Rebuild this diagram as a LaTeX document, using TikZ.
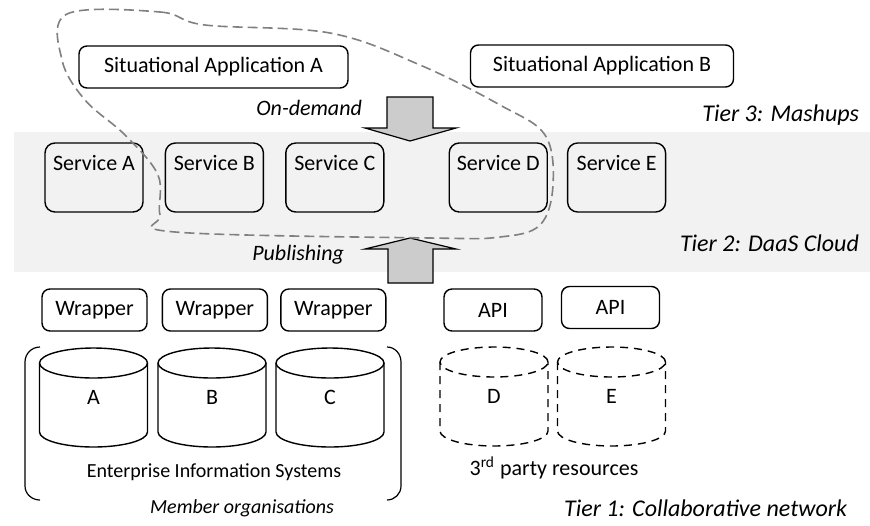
\documentclass[tikz,border=0pt]{standalone}
\usepackage{fontspec}
\setmainfont{Carlito}
\usetikzlibrary{positioning}

\begin{document}
\begin{tikzpicture}[x=0.5pt,y=-0.5pt,
    every node/.style={font=\fontsize{11}{13}\selectfont}, %letra de todos los nodos
    box/.style={draw,rounded corners=4pt,line width=0.7pt,minimum height=21pt,inner sep=0pt},
    svc/.style={draw,rounded corners=5pt,line width=0.7pt,minimum width=49pt,inner xsep=0pt,inner ysep=2pt,text height=11.5pt,text depth=19pt}, %texto arriba de la caja
    db/.style={minimum width=54pt,minimum height=34.5pt,inner sep=0pt,outer sep=0pt}, %cuerpo del cilindro, se dibuja despues
    tramado/.style={dash pattern=on 4pt off 3pt},
    tier/.style={font=\fontsize{12}{14}\selectfont\itshape,anchor=east},
    flecha/.style={draw,line width=0.6pt,fill=black!20,line join=miter}]

    \useasboundingbox (0,0) rectangle (870,525);
    \fill[black!5] (14,132) rectangle (870,272); %la nube (franja gris)

    %Tier 3
    \node[box,minimum width=134.5pt] (sitA) at (213.5,67) {Situational Application A};
    \node[box,minimum width=131.5pt] (sitB) at (602,66) {Situational Application B};

    %Tier 2: servicios, referencias relativas
    \node[svc] (svcA) at (94,177.5) {Service A};
    \node[svc,right=10.5pt of svcA] (svcB) {Service B};
    \node[svc,right=10.5pt of svcB] (svcC) {Service C};
    \node[svc,right=32pt of svcC] (svcD) {Service D};
    \node[svc,right=9.5pt of svcD] (svcE) {Service E};

    %Tier 1
    \node[box,minimum width=52.5pt] (wrA) at (94.5,310) {Wrapper};
    \node[box,minimum width=52.5pt,right=7pt of wrA] (wrB) {Wrapper};
    \node[box,minimum width=52.5pt,right=6pt of wrB] (wrC) {Wrapper};
    \node[box,minimum width=49pt] (apiD) at (493,310) {API};
    \node[box,minimum width=49pt] (apiE) at (610.5,307.5) {API};

    \node[db] (eisA) at (93.5,397.5) {A};
    \node[db] (eisB) at (212,397.5) {B};
    \node[db] (eisC) at (330,397.5) {C};
    \node[db] (resD) at (494,396.5) {D};
    \node[db] (resE) at (611.5,396.5) {E};
    %los cilindros: costados, fondo y tapa
    \foreach \n/\s in {eisA/solid,eisB/solid,eisC/solid,resD/tramado,resE/tramado}{
        \draw[line width=0.7pt,\s] (\n.north west) -- (\n.south west) arc[start angle=180,end angle=360,x radius=27pt,y radius=7.5pt] -- (\n.north east);
        \draw[line width=0.7pt,\s] (\n.north) ellipse[x radius=27pt,y radius=7.5pt];
    }

    \node[font=\fontsize{10}{12}\selectfont] (eis) at (214,472) {Enterprise Information Systems};
    \node[font=\fontsize{10}{12}\selectfont\itshape] (member) at (242,508) {Member organisations};
    \node (third) at (554,468) {3\textsuperscript{rd} party resources};

    %corchetes de las organizaciones
    \draw[line width=0.6pt] (40,347) to[out=180,in=90] (25,362) -- (25,486) to[out=-90,in=180] (40,500);
    \draw[line width=0.6pt] (387,347) to[out=0,in=90] (401,362) -- (401,486) to[out=-90,in=0] (387,500);

    %flechas gordas
    \draw[flecha] (387,97) -- (433,97) -- (433,128) -- (456,128) -- (410,141) -- (365,128) -- (387,128) -- cycle;
    \draw[flecha] (388,283) -- (433,283) -- (433,249) -- (456,249) -- (410,238) -- (365,249) -- (388,249) -- cycle;
    \node[font=\fontsize{11}{13}\selectfont\itshape,anchor=east] (ondemand) at (369,108) {On-demand};
    \node[font=\fontsize{11}{13}\selectfont\itshape,anchor=east] (publishing) at (351,255) {Publishing};

    %etiquetas de los tiers
    \node[tier] (tier3) at (866,115) {Tier 3: Mashups};
    \node[tier] (tier2) at (866,243) {Tier 2: DaaS Cloud};
    \node[tier] (tier1) at (854,508) {Tier 1: Collaborative network};

    %la situational application A (linea punteada)
    \draw[gray,line width=0.8pt,dash pattern=on 5pt off 2.5pt] plot[smooth cycle,tension=0.6] coordinates {
        (67,14) (160,12) (205,25) (330,33) (420,65) (500,105) (545,135) (553,185) (540,225) (500,237)
        (430,238) (175,232) (160,215) (158,175) (125,135) (85,100) (62,60)};
\end{tikzpicture}
\end{document}
